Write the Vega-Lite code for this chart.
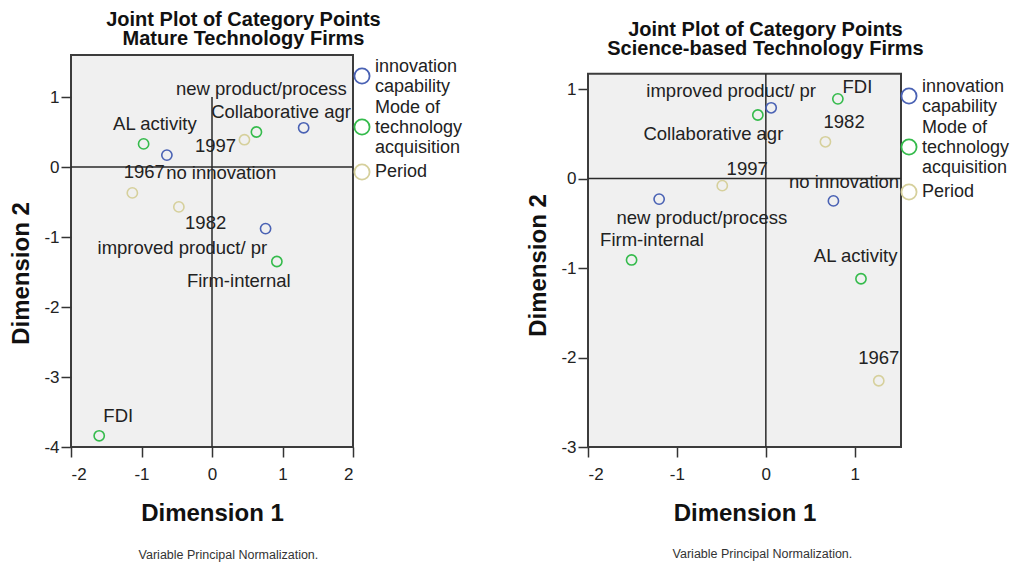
{
  "$schema": "https://vega.github.io/schema/vega-lite/v6.json",
  "background": "white",
  "padding": {"left": 8, "top": 8, "right": 0, "bottom": 0},
  "spacing": 62,
  "datasets": {
    "mature": [
      {"cat": "new product/process", "var": "innovation capability", "d1": 1.30, "d2": 0.56, "lx": 0.70, "ly": 1.11},
      {"cat": "no innovation", "var": "innovation capability", "d1": -0.64, "d2": 0.17, "lx": 0.13, "ly": -0.09},
      {"cat": "improved product/ pr", "var": "innovation capability", "d1": 0.76, "d2": -0.88, "lx": -0.42, "ly": -1.16},
      {"cat": "AL activity", "var": "Mode of technology acquisition", "d1": -0.97, "d2": 0.33, "lx": -0.81, "ly": 0.61},
      {"cat": "Collaborative agr", "var": "Mode of technology acquisition", "d1": 0.63, "d2": 0.50, "lx": 0.98, "ly": 0.79},
      {"cat": "Firm-internal", "var": "Mode of technology acquisition", "d1": 0.92, "d2": -1.35, "lx": 0.38, "ly": -1.63},
      {"cat": "FDI", "var": "Mode of technology acquisition", "d1": -1.60, "d2": -3.84, "lx": -1.33, "ly": -3.56},
      {"cat": "1997", "var": "Period", "d1": 0.46, "d2": 0.39, "lx": 0.05, "ly": 0.30},
      {"cat": "1967", "var": "Period", "d1": -1.13, "d2": -0.37, "lx": -0.96, "ly": -0.07},
      {"cat": "1982", "var": "Period", "d1": -0.47, "d2": -0.57, "lx": -0.09, "ly": -0.80}
    ],
    "science": [
      {"cat": "improved product/ pr", "var": "innovation capability", "d1": 0.06, "d2": 0.79, "lx": -0.39, "ly": 0.98},
      {"cat": "new product/process", "var": "innovation capability", "d1": -1.20, "d2": -0.23, "lx": -0.72, "ly": -0.44},
      {"cat": "no innovation", "var": "innovation capability", "d1": 0.76, "d2": -0.25, "lx": 0.88, "ly": -0.04},
      {"cat": "FDI", "var": "Mode of technology acquisition", "d1": 0.81, "d2": 0.89, "lx": 1.03, "ly": 1.02},
      {"cat": "Collaborative agr", "var": "Mode of technology acquisition", "d1": -0.09, "d2": 0.71, "lx": -0.59, "ly": 0.50},
      {"cat": "Firm-internal", "var": "Mode of technology acquisition", "d1": -1.51, "d2": -0.91, "lx": -1.28, "ly": -0.69},
      {"cat": "AL activity", "var": "Mode of technology acquisition", "d1": 1.07, "d2": -1.12, "lx": 1.01, "ly": -0.87},
      {"cat": "1982", "var": "Period", "d1": 0.67, "d2": 0.41, "lx": 0.88, "ly": 0.63},
      {"cat": "1997", "var": "Period", "d1": -0.49, "d2": -0.08, "lx": -0.21, "ly": 0.11},
      {"cat": "1967", "var": "Period", "d1": 1.27, "d2": -2.26, "lx": 1.27, "ly": -2.01}
    ]
  },
  "hconcat": [
    {
      "title": {"text": "Variable Principal Normalization.", "orient": "bottom", "fontSize": 12.5, "fontWeight": "normal", "color": "#333", "offset": 23, "anchor": "middle", "dx": -8},
      "resolve": {"legend": {"color": "independent"}, "scale": {"color": "independent"}},
      "hconcat": [
        {
          "width": 282,
          "height": 392,
          "view": {"fill": "#f0f0f0", "stroke": "#3c3c3c", "strokeWidth": 2},
          "title": {"text": ["Joint Plot of Category Points", "Mature Technology Firms"], "offset": 6, "dx": 7},
          "data": {"name": "mature"},
          "layer": [
            {
              "data": {"values": [{}]},
              "mark": {"type": "rule", "color": "#2a2a2a", "strokeWidth": 1.5},
              "encoding": {"y": {"datum": 0, "type": "quantitative", "title": "Dimension 2"}}
            },
            {
              "data": {"values": [{}]},
              "mark": {"type": "rule", "color": "#2a2a2a", "strokeWidth": 1.5},
              "encoding": {
                "x": {"datum": 0, "type": "quantitative", "title": "Dimension 1"},
                "y": {"datum": -4, "type": "quantitative", "title": "Dimension 2"},
                "y2": {"datum": 1}
              }
            },
            {
              "mark": {"type": "point", "shape": "circle", "filled": false, "strokeWidth": 1.6, "size": 105, "opacity": 1},
              "encoding": {
                "x": {"field": "d1", "type": "quantitative", "scale": {"domain": [-2, 2], "nice": false, "zero": false}, "axis": {"values": [-2, -1, 0, 1, 2], "title": "Dimension 1", "labelExpr": "datum.value < 0 ? '-' + abs(datum.value) : '' + datum.value"}},
                "y": {"field": "d2", "type": "quantitative", "scale": {"domain": [-4, 1.6], "nice": false, "zero": false}, "axis": {"values": [-4, -3, -2, -1, 0, 1], "title": "Dimension 2", "titleY": 218, "labelExpr": "datum.value < 0 ? '-' + abs(datum.value) : '' + datum.value"}},
                "color": {
                  "field": "var", "type": "nominal",
                  "scale": {"domain": ["innovation capability", "Mode of technology acquisition", "Period"], "range": ["#4a62b4", "#35bb4c", "#d6d09c"]},
                  "legend": {
                    "orient": "none", "legendX": 282, "legendY": 12,
                    "labelExpr": "datum.label == 'innovation capability' ? ['innovation', 'capability'] : datum.label == 'Mode of technology acquisition' ? ['Mode of', 'technology', 'acquisition'] : datum.label",
                    "encoding": {"labels": {"dy": {"condition": [{"test": "datum.value == 'innovation capability'", "value": -9.5}, {"test": "datum.value == 'Mode of technology acquisition'", "value": -19}], "value": 0}}}
                  }
                }
              }
            },
            {
              "mark": {"type": "text", "fontSize": 18.5, "color": "#222", "align": "center", "baseline": "middle"},
              "encoding": {
                "x": {"field": "lx", "type": "quantitative", "title": "Dimension 1"},
                "y": {"field": "ly", "type": "quantitative", "title": "Dimension 2"},
                "text": {"field": "cat"}
              }
            }
          ]
        }
      ]
    },
    {
      "title": {"text": "Variable Principal Normalization.", "orient": "bottom", "fontSize": 12.5, "fontWeight": "normal", "color": "#333", "offset": 23, "anchor": "middle", "dx": -6},
      "resolve": {"legend": {"color": "independent"}, "scale": {"color": "independent"}},
      "hconcat": [
        {
          "width": 313,
          "height": 392,
          "view": {"fill": null, "stroke": null},
          "title": {"text": ["Joint Plot of Category Points", "Science-based Technology Firms"], "offset": 6, "dy": 10, "dx": -3},
          "data": {"name": "science"},
          "layer": [
            {
              "data": {"values": [{}]},
              "mark": {"type": "rect", "fill": "#f0f0f0", "stroke": "#3c3c3c", "strokeWidth": 2},
              "encoding": {
                "x": {"datum": -2, "type": "quantitative", "title": "Dimension 1"},
                "x2": {"datum": 1.52},
                "y": {"datum": -3, "type": "quantitative", "title": "Dimension 2"},
                "y2": {"datum": 1.17}
              }
            },
            {
              "data": {"values": [{}]},
              "mark": {"type": "rule", "color": "#2a2a2a", "strokeWidth": 1.5},
              "encoding": {"y": {"datum": 0, "type": "quantitative", "title": "Dimension 2"}}
            },
            {
              "data": {"values": [{}]},
              "mark": {"type": "rule", "color": "#2a2a2a", "strokeWidth": 1.5},
              "encoding": {
                "x": {"datum": 0, "type": "quantitative", "title": "Dimension 1"},
                "y": {"datum": -3, "type": "quantitative", "title": "Dimension 2"},
                "y2": {"datum": 1.17}
              }
            },
            {
              "mark": {"type": "point", "shape": "circle", "filled": false, "strokeWidth": 1.6, "size": 105, "opacity": 1},
              "encoding": {
                "x": {"field": "d1", "type": "quantitative", "scale": {"domain": [-2, 1.52], "nice": false, "zero": false}, "axis": {"values": [-2, -1, 0, 1], "title": "Dimension 1", "labelExpr": "datum.value < 0 ? '-' + abs(datum.value) : '' + datum.value"}},
                "y": {"field": "d2", "type": "quantitative", "scale": {"domain": [-3, 1.38], "nice": false, "zero": false}, "axis": {"values": [-3, -2, -1, 0, 1], "title": "Dimension 2", "titleY": 210, "labelExpr": "datum.value < 0 ? '-' + abs(datum.value) : '' + datum.value"}},
                "color": {
                  "field": "var", "type": "nominal",
                  "scale": {"domain": ["innovation capability", "Mode of technology acquisition", "Period"], "range": ["#4a62b4", "#35bb4c", "#d6d09c"]},
                  "legend": {
                    "orient": "none", "legendX": 312, "legendY": 32,
                    "labelExpr": "datum.label == 'innovation capability' ? ['innovation', 'capability'] : datum.label == 'Mode of technology acquisition' ? ['Mode of', 'technology', 'acquisition'] : datum.label",
                    "encoding": {"labels": {"dy": {"condition": [{"test": "datum.value == 'innovation capability'", "value": -9.5}, {"test": "datum.value == 'Mode of technology acquisition'", "value": -19}], "value": 0}}}
                  }
                }
              }
            },
            {
              "mark": {"type": "text", "fontSize": 18.5, "color": "#222", "align": "center", "baseline": "middle"},
              "encoding": {
                "x": {"field": "lx", "type": "quantitative", "title": "Dimension 1"},
                "y": {"field": "ly", "type": "quantitative", "title": "Dimension 2"},
                "text": {"field": "cat"}
              }
            }
          ]
        }
      ]
    }
  ],
  "resolve": {"legend": {"color": "independent"}, "scale": {"color": "independent"}},
  "config": {
    "font": "Liberation Sans",
    "view": {"stroke": null},
    "title": {"font": "Liberation Sans", "fontSize": 20, "fontWeight": "bold", "color": "#111", "lineHeight": 19.5, "anchor": "middle", "frame": "bounds"},
    "axis": {
      "domain": false, "grid": false,
      "labelFont": "Liberation Sans", "labelFontSize": 17, "labelColor": "#222", "labelPadding": 2,
      "tickColor": "#333", "tickWidth": 1.5, "tickSize": 10,
      "titleFont": "Liberation Sans", "titleFontSize": 24, "titleFontWeight": "bold", "titleColor": "#111"
    },
    "axisX": {"titlePadding": 19, "labelPadding": 9},
    "axisY": {"titlePadding": 10},
    "legend": {
      "title": null, "padding": 0, "symbolType": "circle", "symbolSize": 230, "symbolStrokeWidth": 1.8,
      "labelFont": "Liberation Sans", "labelFontSize": 18, "labelColor": "#222", "labelOffset": 4, "rowPadding": 3, "labelLimit": 200
    }
  }
}
